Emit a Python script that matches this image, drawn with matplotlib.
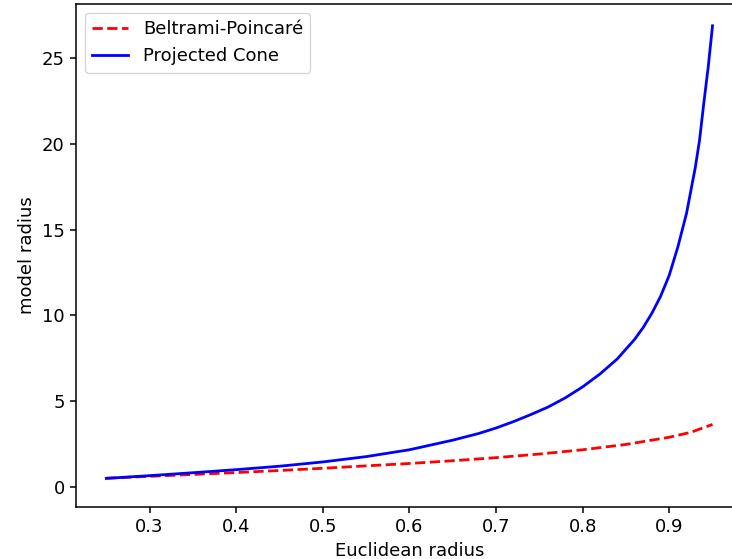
import matplotlib
matplotlib.use("Agg")
import matplotlib.pyplot as plt

# values
r_bp = [0.25, 0.30, 0.35, 0.40, 0.45, 0.50, 0.55, 0.60, 0.65, 0.70,
        0.75, 0.80, 0.85, 0.90, 0.925, 0.95]
model_bp = [0.50, 0.61, 0.72, 0.83, 0.95, 1.08, 1.22, 1.36, 1.52, 1.70,
            1.91, 2.16, 2.47, 2.89, 3.18, 3.64]

r_cone = [0.25, 0.30, 0.35, 0.40, 0.45, 0.50, 0.55, 0.60, 0.65, 0.68,
          0.70, 0.72, 0.74, 0.76, 0.78, 0.80, 0.82, 0.84, 0.86, 0.87,
          0.88, 0.89, 0.90, 0.91, 0.92, 0.93, 0.935, 0.94, 0.945, 0.95]
model_cone = [0.49, 0.65, 0.82, 1.00, 1.20, 1.45, 1.76, 2.16, 2.72, 3.11,
              3.43, 3.80, 4.21, 4.65, 5.19, 5.83, 6.58, 7.46, 8.60, 9.30,
              10.13, 11.11, 12.34, 14.00, 15.96, 18.60, 20.22, 22.42, 24.48,
              26.90]

plt.rcParams['font.size'] = 13

fig = plt.figure(figsize=(7.32, 5.59), dpi=100)
# the reference is cropped on the right, so the axes run past the figure edge
ax = fig.add_axes([0.1038, 0.093, 0.911, 0.8998])

ax.plot(r_bp, model_bp, 'r--', lw=2, label='Beltrami-Poincaré')
ax.plot(r_cone, model_cone, 'b-', lw=2, label='Projected Cone')

ax.set_xlim(0.215, 0.985)
ax.set_ylim(-1.18, 28.17)
ax.set_xticks([0.3, 0.4, 0.5, 0.6, 0.7, 0.8, 0.9])
ax.set_yticks([0, 5, 10, 15, 20, 25])
ax.tick_params(length=4.6, width=1.1)
for s in ax.spines.values():
    s.set_linewidth(1.1)
ax.spines['right'].set_visible(False)

ax.set_xlabel('Euclidean radius')
ax.set_ylabel('model radius')
ax.legend(loc='upper left')

fig.savefig('out.png', dpi=100)
